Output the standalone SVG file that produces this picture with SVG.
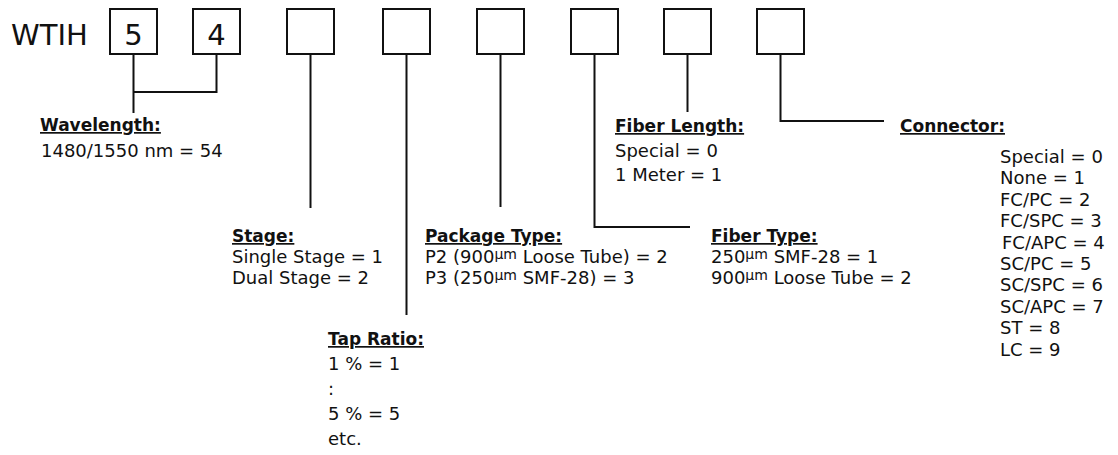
<svg xmlns="http://www.w3.org/2000/svg" width="1118" height="455" viewBox="0 0 1118 455">
<style>
text{font-family:"DejaVu Sans","Liberation Sans",sans-serif;font-size:18px;fill:#111}
.big{font-size:29px}
.hd{font-weight:bold;font-size:17px;text-decoration:underline}
.box{fill:#fff;stroke:#111;stroke-width:2}
.ln{fill:none;stroke:#111;stroke-width:2}
.mu{font-size:14px}
</style>
<rect width="1118" height="455" fill="#fff"/>
<g id="prefix"><text class="big" x="11" y="45">WTIH</text></g>
<g id="box1"><rect class="box" x="110" y="9" width="47" height="45"/><text class="big" x="133.5" y="45" text-anchor="middle">5</text></g>
<g id="box2"><rect class="box" x="193" y="9" width="47" height="45"/><text class="big" x="216.5" y="45" text-anchor="middle">4</text></g>
<g id="box3"><rect class="box" x="287" y="9" width="47" height="45"/></g>
<g id="box4"><rect class="box" x="383" y="9" width="47" height="45"/></g>
<g id="box5"><rect class="box" x="477" y="9" width="47" height="45"/></g>
<g id="box6"><rect class="box" x="571" y="9" width="47" height="45"/></g>
<g id="box7"><rect class="box" x="664" y="9" width="47" height="45"/></g>
<g id="box8"><rect class="box" x="757" y="9" width="47" height="45"/></g>
<g id="connectors">
<path class="ln" d="M133.5 54V113M216.5 54V92H133.5"/>
<path class="ln" d="M310.5 54V208"/>
<path class="ln" d="M406.5 54V315"/>
<path class="ln" d="M500.5 54V207"/>
<path class="ln" d="M594.5 54V227H690"/>
<path class="ln" d="M687.5 54V112"/>
<path class="ln" d="M780.5 54V121H884"/>
</g>
<g id="wavelength">
<text class="hd" x="40" y="131">Wavelength:</text>
<text x="41" y="157">1480/1550 nm = 54</text>
</g>
<g id="stage">
<text class="hd" x="232" y="242">Stage:</text>
<text x="232" y="263">Single Stage = 1</text>
<text x="232" y="284">Dual Stage = 2</text>
</g>
<g id="tap-ratio">
<text class="hd" x="328" y="345">Tap Ratio:</text>
<text x="328" y="370">1 % = 1</text>
<text x="328" y="395">:</text>
<text x="328" y="420">5 % = 5</text>
<text x="328" y="445">etc.</text>
</g>
<g id="package-type">
<text class="hd" x="425" y="242">Package Type:</text>
<text x="425" y="263">P2 (900<tspan class="mu" dy="-4">µm</tspan><tspan dy="4"> Loose Tube) = 2</tspan></text>
<text x="425" y="284">P3 (250<tspan class="mu" dy="-4">µm</tspan><tspan dy="4"> SMF-28) = 3</tspan></text>
</g>
<g id="fiber-type">
<text class="hd" x="711" y="242">Fiber Type:</text>
<text x="711" y="263">250<tspan class="mu" dy="-4">µm</tspan><tspan dy="4"> SMF-28 = 1</tspan></text>
<text x="711" y="284">900<tspan class="mu" dy="-4">µm</tspan><tspan dy="4"> Loose Tube = 2</tspan></text>
</g>
<g id="fiber-length">
<text class="hd" x="615" y="132">Fiber Length:</text>
<text x="615" y="157">Special = 0</text>
<text x="615" y="181">1 Meter = 1</text>
</g>
<g id="connector">
<text class="hd" x="900" y="132">Connector:</text>
<text x="1000" y="163">Special = 0</text>
<text x="1000" y="184.4">None = 1</text>
<text x="1000" y="205.8">FC/PC = 2</text>
<text x="1000" y="227.2">FC/SPC = 3</text>
<text x="1002" y="248.6">FC/APC = 4</text>
<text x="1000" y="270">SC/PC = 5</text>
<text x="1000" y="291.4">SC/SPC = 6</text>
<text x="1000" y="312.8">SC/APC = 7</text>
<text x="1000" y="334.2">ST = 8</text>
<text x="1000" y="355.6">LC = 9</text>
</g>
</svg>
